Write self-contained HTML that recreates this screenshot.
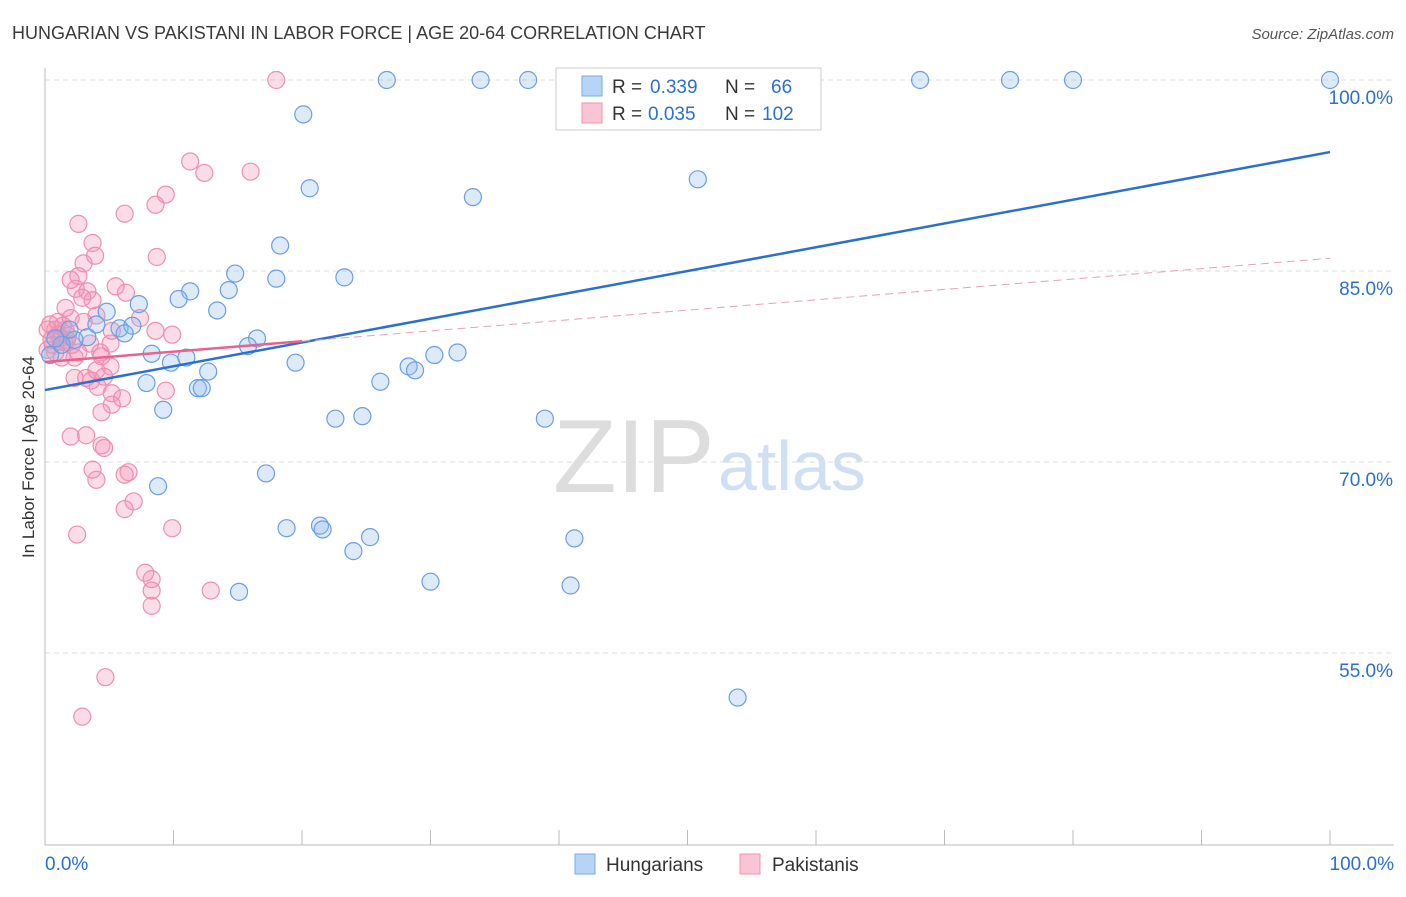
<!DOCTYPE html>
<html><head><meta charset="utf-8"><style>
body{margin:0;background:#fff;font-family:"Liberation Sans",sans-serif}
svg text{font-family:"Liberation Sans",sans-serif}
</style></head><body>
<svg id="c" width="1406" height="892">
<text x="12" y="39" font-size="18" fill="#3a3a3a">HUNGARIAN VS PAKISTANI IN LABOR FORCE | AGE 20-64 CORRELATION CHART</text>
<text x="1394" y="39" font-size="15" fill="#555" text-anchor="end" font-style="italic">Source: ZipAtlas.com</text>
<text x="34" y="457" font-size="17" fill="#333" text-anchor="middle" transform="rotate(-90 34 457)">In Labor Force | Age 20-64</text>
<text x="553" y="492" font-size="104" fill="#ddd" font-family="Liberation Serif">ZIP</text>
<text x="718" y="490" font-size="70" fill="#cfe0f5">atlas</text>
<g id="grid"></g><g id="pts"></g><g id="lines"></g>
<g>
<rect x="556" y="68" width="265" height="62" fill="#fff" stroke="#ccc"/>
<rect x="582" y="76" width="20" height="20" fill="#b7d3f5" stroke="#7aa8e8"/>
<rect x="582" y="103" width="20" height="20" fill="#f9c5d5" stroke="#ee94b2"/>
<text x="612" y="93" font-size="19" fill="#333">R =</text>
<text x="650" y="93" font-size="19" fill="#2a6fd1">0.339</text>
<text x="725" y="93" font-size="19" fill="#333">N =</text>
<text x="771" y="93" font-size="19" fill="#2a6fd1">66</text>
<text x="612" y="120" font-size="19" fill="#333">R =</text>
<text x="648" y="120" font-size="19" fill="#2a6fd1">0.035</text>
<text x="725" y="120" font-size="19" fill="#333">N =</text>
<text x="762" y="120" font-size="19" fill="#2a6fd1">102</text>
</g>
<g>
<rect x="575" y="854" width="20" height="20" fill="#b7d3f5" stroke="#7aa8e8"/>
<text x="606" y="871" font-size="19" fill="#333">Hungarians</text>
<rect x="740" y="854" width="20" height="20" fill="#f9c5d5" stroke="#ee94b2"/>
<text x="772" y="871" font-size="19" fill="#333">Pakistanis</text>
</g>
<g id="top"></g>
</svg>
<script>
const yTicks=[100,85,70,55];
const xTickLabels=["0.0%","100.0%"];
const blueX=[26.6,33.9,37.6,56.7,68.1,75.1,80.0,100,20.1,20.6,33.3,50.8,18.3,14.8,18.0,23.3,11.3,10.4,14.3,7.3,13.4,4.8,4.0,5.8,6.8,6.2,3.3,2.3,16.5,15.8,8.3,11.0,9.8,19.5,28.3,28.8,30.3,32.1,12.7,7.9,26.1,11.9,12.2,9.2,22.6,24.7,38.9,17.2,8.8,18.8,21.4,21.6,25.3,24.0,41.2,30.0,40.9,15.1,53.9,0.4,1.3,0.8,1.9];
const blueY=[100,100,100,100,100,100,100,100,97.3,91.5,90.8,92.2,87.0,84.8,84.4,84.5,83.4,82.8,83.5,82.4,81.9,81.8,80.8,80.5,80.7,80.1,79.8,79.6,79.7,79.1,78.5,78.2,77.8,77.8,77.5,77.2,78.4,78.6,77.1,76.2,76.3,75.8,75.8,74.1,73.4,73.6,73.4,69.1,68.1,64.8,65.0,64.7,64.1,63.0,64.0,60.6,60.3,59.8,51.5,78.4,79.2,79.7,80.4];
const pinkX=[18.0,2.6,6.2,11.3,12.4,16.0,9.4,8.6,3.7,3.9,3.0,8.7,2.6,2.0,3.3,2.4,5.5,6.3,3.7,2.9,1.6,2.0,4.0,3.0,7.4,8.6,9.9,0.4,0.8,1.0,1.2,0.5,1.5,0.2,1.6,1.8,2.1,2.6,1.3,2.3,4.4,5.1,5.2,3.5,4.3,4.0,3.2,2.3,4.6,3.6,4.1,5.2,6.0,5.2,4.4,9.4,2.0,3.2,4.4,4.6,3.7,4.0,6.5,6.2,6.9,6.2,9.9,2.5,7.8,8.3,8.3,8.3,12.9,4.7,2.9,0.2,0.6,1.0,1.4,1.7,0.8,5.1];
const pinkY=[100,88.7,89.5,93.6,92.7,92.8,91.0,90.2,87.2,86.2,85.6,86.1,84.6,84.3,83.4,83.6,83.8,83.3,82.7,82.9,82.1,81.3,81.5,81.0,81.3,80.3,80.0,80.8,80.4,80.0,79.7,79.6,79.4,78.8,80.4,79.9,79.2,78.6,78.2,78.2,78.3,79.3,80.3,79.3,78.6,77.2,76.6,76.6,76.7,76.4,75.9,75.4,75.0,74.5,73.9,75.6,72.0,72.1,71.3,71.1,69.4,68.6,69.2,69.0,66.9,66.3,64.8,64.3,61.3,60.8,59.9,58.7,59.9,53.1,50.0,80.4,79.2,81.0,80.7,79.6,78.6,77.5];
const blueTrend=[75.65,94.34];
const pinkTrend=[77.85,86.0];
const X=v=>45+v*12.85, Y=v=>80+(100-v)*12.733;
const NS="http://www.w3.org/2000/svg";
function mk(t,a,p){const e=document.createElementNS(NS,t);for(const k in a)e.setAttribute(k,a[k]);p.appendChild(e);return e;}
const g=document.getElementById('grid');
yTicks.forEach(v=>{const l=mk('line',{x1:45,x2:1394,y1:Y(v),y2:Y(v),stroke:'#ddd','stroke-dasharray':'5,4'},g);


const t=mk('text',{x:1393,y:Y(v)+24,'font-size':19,fill:'#2a6fd1','text-anchor':'end'},g);t.textContent=v.toFixed(1)+'%';

});
const ax=mk('line',{x1:45,x2:45,y1:68,y2:845,stroke:'#bbb'},g);


const bx=mk('line',{x1:45,x2:1394,y1:845,y2:845,stroke:'#bbb'},g);


for(let i=0;i<=10;i++){const tk=mk('line',{x1:X(i*10),x2:X(i*10),y1:830,y2:845,stroke:'#bbb'},g);

}
[[0,45,'start'],[1,1394,'end']].forEach(([i,x,a])=>{const t=mk('text',{x:x,y:870,'font-size':19,fill:'#2a6fd1','text-anchor':a},g);t.textContent=xTickLabels[i];

});
const P=document.getElementById('pts');
pinkX.forEach((v,i)=>{const c=mk('circle',{cx:X(v),cy:Y(pinkY[i]),r:8.5,fill:'rgba(244,143,177,0.3)',stroke:'#ee8fb0','stroke-width':1.2},P);

});
blueX.forEach((v,i)=>{const c=mk('circle',{cx:X(v),cy:Y(blueY[i]),r:8.5,fill:'rgba(144,186,240,0.3)',stroke:'#6a9ee6','stroke-width':1.2},P);

});
const L=document.getElementById('lines');
const bl=mk('line',{x1:X(0),y1:Y(blueTrend[0]),x2:X(100),y2:Y(blueTrend[1]),stroke:'#2a6fd1','stroke-width':2.5},L);


const pm=pinkTrend[0]+(pinkTrend[1]-pinkTrend[0])*0.2;
const pl=mk('line',{x1:X(0),y1:Y(pinkTrend[0]),x2:X(20),y2:Y(pm),stroke:'#e8628e','stroke-width':2.5},L);


const pd=mk('line',{x1:X(20),y1:Y(pm),x2:X(100),y2:Y(pinkTrend[1]),stroke:'#e8a0b8','stroke-width':1,'stroke-dasharray':'8,5'},L);


</script>
</body></html>
